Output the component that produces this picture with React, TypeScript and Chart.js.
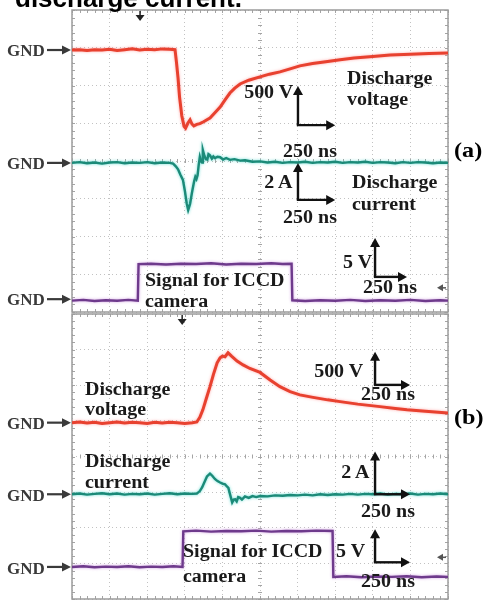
import React, { useEffect, useRef } from 'react';
import { Chart, registerables } from 'chart.js';
Chart.register(...registerables);

// time in divisions (0..10), level in divisions (0..8, from bottom of each panel)
// ---------- Panel (a) ----------
const voltageA: [number, number][] = [
  [0, 6.94], [0.2, 6.95], [0.4, 6.93], [0.6, 6.95], [0.8, 6.94], [1.0, 6.96], [1.2, 6.93], [1.4, 6.95],
  [1.6, 6.97], [1.8, 6.94], [2.0, 6.96], [2.2, 6.95], [2.4, 6.97], [2.6, 6.96], [2.74, 6.95], [2.78, 6.6],
  [2.82, 6.2], [2.86, 5.7], [2.92, 5.2], [2.98, 4.92], [3.02, 4.87], [3.08, 5.0], [3.14, 5.09], [3.19, 4.98],
  [3.24, 4.93], [3.32, 4.97], [3.4, 4.99], [3.5, 5.04], [3.6, 5.1], [3.67, 5.14], [3.8, 5.28], [3.94, 5.43],
  [4.07, 5.62], [4.2, 5.8], [4.33, 5.93], [4.47, 6.04], [4.7, 6.14], [5.0, 6.23], [5.25, 6.3], [5.53, 6.36],
  [5.8, 6.44], [6.06, 6.52], [6.4, 6.58], [6.75, 6.63], [7.13, 6.68], [7.5, 6.73], [8.0, 6.77], [8.46, 6.81],
  [9.0, 6.83], [9.5, 6.85], [10.0, 6.86],
];
const currentA: [number, number][] = [
  [0, 3.95], [0.2, 3.97], [0.4, 3.94], [0.6, 3.96], [0.8, 3.93], [1.0, 3.96], [1.2, 3.97], [1.4, 3.94],
  [1.6, 3.96], [1.8, 3.95], [2.0, 3.97], [2.2, 3.94], [2.4, 3.96], [2.6, 3.95], [2.69, 3.93], [2.76, 3.86],
  [2.82, 3.78], [2.88, 3.64], [2.95, 3.5], [3.0, 3.22], [3.05, 2.88], [3.09, 2.7], [3.14, 2.86], [3.19, 3.16],
  [3.22, 3.32], [3.25, 3.47], [3.28, 3.58], [3.31, 3.52], [3.34, 3.62], [3.37, 3.9], [3.4, 4.11], [3.43, 4.0],
  [3.46, 3.96], [3.48, 4.29], [3.52, 4.14], [3.56, 4.05], [3.6, 4.04], [3.63, 4.18], [3.67, 4.15], [3.72, 4.06],
  [3.76, 4.12], [3.8, 4.08], [3.87, 4.11], [3.94, 4.1], [4.02, 4.04], [4.1, 4.08], [4.2, 4.03], [4.32, 4.05],
  [4.47, 4.01], [4.6, 4.02], [4.8, 3.98], [5.0, 3.99], [5.2, 3.96], [5.4, 3.98], [5.6, 3.95], [5.8, 3.97],
  [6.0, 3.96], [6.2, 3.98], [6.4, 3.95], [6.6, 3.97], [6.8, 3.96], [7.0, 3.98], [7.2, 3.95], [7.4, 3.97],
  [7.6, 3.96], [7.8, 3.98], [8.0, 3.95], [8.2, 3.97], [8.4, 3.96], [8.6, 3.94], [8.8, 3.97], [9.0, 3.95],
  [9.2, 3.97], [9.4, 3.96], [9.6, 3.94], [9.8, 3.96], [10, 3.95],
];
const iccdA: [number, number][] = [
  [0, 0.3], [0.3, 0.32], [0.6, 0.29], [0.9, 0.31], [1.2, 0.3], [1.5, 0.32], [1.75, 0.3], [1.77, 1.27],
  [2.1, 1.28], [2.5, 1.26], [2.9, 1.28], [3.3, 1.27], [3.7, 1.29], [4.1, 1.26], [4.5, 1.28], [4.9, 1.27],
  [5.3, 1.29], [5.6, 1.27], [5.84, 1.28], [5.86, 0.31], [6.2, 0.29], [6.6, 0.31], [7.0, 0.3], [7.4, 0.32],
  [7.8, 0.29], [8.2, 0.31], [8.6, 0.3], [9.0, 0.32], [9.4, 0.29], [9.8, 0.31], [10, 0.3],
];

// ---------- Panel (b) ----------
const voltageB: [number, number][] = [
  [0, 4.95], [0.2, 4.97], [0.4, 4.94], [0.6, 4.96], [0.8, 4.93], [1.0, 4.95], [1.2, 4.97], [1.4, 4.94],
  [1.6, 4.96], [1.8, 4.95], [2.0, 4.93], [2.2, 4.96], [2.4, 4.94], [2.6, 4.96], [2.8, 4.95], [3.0, 4.93],
  [3.2, 4.95], [3.32, 4.97], [3.4, 5.1], [3.48, 5.31], [3.57, 5.62], [3.67, 5.96], [3.76, 6.3], [3.86, 6.63],
  [3.94, 6.77], [4.0, 6.82], [4.07, 6.8], [4.15, 6.91], [4.25, 6.81], [4.39, 6.68], [4.55, 6.57], [4.73, 6.47],
  [5.0, 6.36], [5.27, 6.15], [5.53, 5.96], [5.8, 5.82], [6.06, 5.73], [6.41, 5.66], [6.8, 5.59], [7.13, 5.54],
  [7.6, 5.47], [8.19, 5.4], [8.6, 5.35], [8.91, 5.31], [9.4, 5.27], [10, 5.22],
];
const currentB: [number, number][] = [
  [0, 2.94], [0.2, 2.96], [0.4, 2.93], [0.6, 2.95], [0.8, 2.97], [1.0, 2.94], [1.2, 2.96], [1.4, 2.93],
  [1.6, 2.95], [1.8, 2.94], [2.0, 2.96], [2.2, 2.93], [2.4, 2.95], [2.6, 2.97], [2.8, 2.94], [3.0, 2.96],
  [3.2, 2.95], [3.32, 2.96], [3.4, 3.03], [3.46, 3.13], [3.53, 3.3], [3.59, 3.44], [3.67, 3.52], [3.73, 3.46],
  [3.8, 3.37], [3.87, 3.31], [3.94, 3.27], [4.0, 3.24], [4.07, 3.22], [4.12, 3.16], [4.16, 3.12], [4.2, 2.95],
  [4.26, 2.71], [4.3, 2.79], [4.34, 2.8], [4.38, 2.74], [4.42, 2.86], [4.47, 2.84], [4.52, 2.79], [4.6, 2.88],
  [4.7, 2.84], [4.8, 2.89], [4.9, 2.86], [5.0, 2.89], [5.2, 2.88], [5.4, 2.91], [5.6, 2.9], [5.8, 2.92],
  [6.0, 2.91], [6.2, 2.93], [6.4, 2.91], [6.6, 2.94], [6.8, 2.92], [7.0, 2.94], [7.2, 2.93], [7.4, 2.95],
  [7.6, 2.93], [7.8, 2.95], [8.0, 2.94], [8.2, 2.96], [8.4, 2.93], [8.6, 2.95], [8.8, 2.94], [9.0, 2.96],
  [9.2, 2.93], [9.4, 2.95], [9.6, 2.94], [9.8, 2.96], [10, 2.94],
];
const iccdB: [number, number][] = [
  [0, 0.9], [0.3, 0.92], [0.6, 0.89], [0.9, 0.91], [1.2, 0.9], [1.5, 0.92], [1.8, 0.89], [2.1, 0.91],
  [2.4, 0.9], [2.7, 0.92], [2.94, 0.9], [2.96, 1.9], [3.3, 1.92], [3.7, 1.89], [4.1, 1.91], [4.5, 1.9],
  [4.9, 1.92], [5.3, 1.89], [5.7, 1.91], [6.1, 1.9], [6.5, 1.92], [6.93, 1.91], [6.95, 0.62], [7.3, 0.64],
  [7.7, 0.61], [8.1, 0.63], [8.5, 0.62], [8.9, 0.64], [9.3, 0.61], [9.7, 0.63], [10, 0.62],
];

// Ground reference levels (divisions)
const gndA = [6.94, 3.95, 0.34];
const gndB = [4.95, 2.94, 0.9];
// Scale bars: [cornerX, cornerY, tipY, endX]
const barsA: [number, number, number, number][] = [[6.01, 4.95, 5.99, 7.0], [6.01, 2.97, 3.95, 7.0], [8.06, 0.93, 1.96, 8.91]];
const barsB: [number, number, number, number][] = [[8.06, 6.01, 6.94, 8.99], [8.06, 2.94, 4.14, 8.99], [8.06, 1.03, 1.96, 8.99]];

const RED = '#e8412f';
const TEAL = '#1b8a78';
const PURPLE = '#6e3a8c';

type PanelCfg = { gnd: number[]; bars: [number, number, number, number][]; trigger: number; rightMark: number };

function scopePlugin(cfg: PanelCfg) {
  return {
    id: 'scope',
    beforeDatasetsDraw(chart: any) {
      const { ctx, chartArea: a, scales } = chart;
      const xs = scales.x, ys = scales.y;
      const ln = (x1: number, y1: number, x2: number, y2: number) => {
        ctx.beginPath(); ctx.moveTo(x1, y1); ctx.lineTo(x2, y2); ctx.stroke();
      };
      ctx.save();
      ctx.strokeStyle = '#a4a4a4';
      ctx.lineWidth = 1;
      const cy = ys.getPixelForValue(4), cx = xs.getPixelForValue(5);
      for (let i = 0; i <= 50; i++) {
        const px = Math.round(xs.getPixelForValue(i * 0.2)) + 0.5;
        ln(px, a.top, px, a.top + 3);
        ln(px, a.bottom, px, a.bottom - 3);
        ln(px, cy - 2, px, cy + 2);
      }
      for (let i = 0; i <= 40; i++) {
        const py = Math.round(ys.getPixelForValue(i * 0.2)) + 0.5;
        ln(a.left, py, a.left + 3, py);
        ln(a.right, py, a.right - 3, py);
        ln(cx - 2, py, cx + 2, py);
      }
      ctx.strokeStyle = '#9c9c9c';
      ctx.lineWidth = 1.5;
      ctx.strokeRect(a.left, a.top, a.right - a.left, a.bottom - a.top);
      ctx.restore();
    },
    beforeDatasetDraw(chart: any, args: any) {
      const ds = chart.data.datasets[args.index];
      chart.ctx.save();
      chart.ctx.shadowColor = ds.glow;
      chart.ctx.shadowBlur = 3;
    },
    afterDatasetDraw(chart: any) {
      chart.ctx.restore();
    },
    afterDatasetsDraw(chart: any) {
      const { ctx, chartArea: a, scales } = chart;
      const xs = scales.x, ys = scales.y;
      ctx.save();
      // GND arrows
      ctx.strokeStyle = '#3a3a3a'; ctx.fillStyle = '#3a3a3a'; ctx.lineWidth = 2.2;
      cfg.gnd.forEach((g) => {
        const py = ys.getPixelForValue(g);
        ctx.beginPath(); ctx.moveTo(a.left - 25, py); ctx.lineTo(a.left - 8, py); ctx.stroke();
        ctx.beginPath(); ctx.moveTo(a.left - 1, py); ctx.lineTo(a.left - 10, py - 4.5); ctx.lineTo(a.left - 10, py + 4.5); ctx.closePath(); ctx.fill();
      });
      // trigger marker
      const tx = xs.getPixelForValue(cfg.trigger);
      ctx.fillStyle = '#222'; ctx.strokeStyle = '#222'; ctx.lineWidth = 1.5;
      ctx.beginPath(); ctx.moveTo(tx, a.top + 1); ctx.lineTo(tx, a.top + 6); ctx.stroke();
      ctx.beginPath(); ctx.moveTo(tx - 4.5, a.top + 5); ctx.lineTo(tx + 4.5, a.top + 5); ctx.lineTo(tx, a.top + 11); ctx.closePath(); ctx.fill();
      // right-hand marker
      const ry = ys.getPixelForValue(cfg.rightMark);
      ctx.fillStyle = '#555'; ctx.strokeStyle = '#555'; ctx.lineWidth = 1.5;
      ctx.beginPath(); ctx.moveTo(a.right - 11, ry); ctx.lineTo(a.right - 5, ry - 3.5); ctx.lineTo(a.right - 5, ry + 3.5); ctx.closePath(); ctx.fill();
      ctx.beginPath(); ctx.moveTo(a.right - 6, ry); ctx.lineTo(a.right - 2, ry); ctx.stroke();
      // scale bars
      ctx.strokeStyle = '#111'; ctx.fillStyle = '#111'; ctx.lineWidth = 2.4;
      cfg.bars.forEach(([cxv, cyv, tipv, endv]) => {
        const x0 = xs.getPixelForValue(cxv), y0 = ys.getPixelForValue(cyv);
        const yt = ys.getPixelForValue(tipv), xe = xs.getPixelForValue(endv);
        ctx.beginPath(); ctx.moveTo(x0, y0); ctx.lineTo(x0, yt + 7); ctx.stroke();
        ctx.beginPath(); ctx.moveTo(x0, yt); ctx.lineTo(x0 - 5, yt + 9); ctx.lineTo(x0 + 5, yt + 9); ctx.closePath(); ctx.fill();
        ctx.beginPath(); ctx.moveTo(x0 - 1.2, y0); ctx.lineTo(xe - 7, y0); ctx.stroke();
        ctx.beginPath(); ctx.moveTo(xe, y0); ctx.lineTo(xe - 9, y0 - 5); ctx.lineTo(xe - 9, y0 + 5); ctx.closePath(); ctx.fill();
      });
      ctx.restore();
    },
  };
}

function makeChart(canvas: HTMLCanvasElement, series: { pts: [number, number][]; color: string; glow: string; w: number }[], cfg: PanelCfg, padding: any) {
  return new Chart(canvas, {
    type: 'line',
    data: {
      datasets: series.map((s) => ({
        data: s.pts.map(([x, y]) => ({ x, y })),
        borderColor: s.color,
        glow: s.glow,
        borderWidth: s.w,
        pointRadius: 0,
        tension: 0,
        fill: false,
      })),
    },
    options: {
      animation: false,
      responsive: false,
      layout: { padding },
      plugins: { legend: { display: false }, tooltip: { enabled: false } },
      scales: {
        x: {
          type: 'linear', min: 0, max: 10,
          ticks: { display: false, stepSize: 1 },
          grid: { color: '#c2c2c2', lineWidth: 1, drawTicks: false },
          border: { display: false, dash: [1, 3] },
        },
        y: {
          type: 'linear', min: 0, max: 8,
          ticks: { display: false, stepSize: 1 },
          grid: { color: '#c2c2c2', lineWidth: 1, drawTicks: false },
          border: { display: false, dash: [1, 3] },
        },
      },
    } as any,
    plugins: [scopePlugin(cfg)],
  });
}

const SERIF = '"Liberation Serif", "Times New Roman", serif';

function T({ x, y, text, size = 18, align = 'left', color = '#1a1a1a', family = SERIF, weight = 700, sx = 1.11 }: any) {
  const base = family === SERIF ? 0.8375 : 0.8465;
  const style: React.CSSProperties = {
    position: 'absolute', top: y - base * size, fontSize: size, lineHeight: `${size}px`,
    fontFamily: family, fontWeight: weight, color, whiteSpace: 'nowrap',
  };
  if (align === 'left') { style.left = x; style.transform = `scaleX(${sx})`; style.transformOrigin = 'left center'; }
  else if (align === 'right') { style.right = 489 - x; style.transform = `scaleX(${sx})`; style.transformOrigin = 'right center'; }
  else { style.left = x; style.transform = `translateX(-50%) scaleX(${sx})`; style.transformOrigin = 'center center'; }
  return <div style={style}>{text}</div>;
}

export default function App() {
  const refA = useRef<HTMLCanvasElement>(null);
  const refB = useRef<HTMLCanvasElement>(null);
  useEffect(() => {
    const ca = makeChart(refA.current!, [
      { pts: iccdA, color: PURPLE, glow: 'rgba(200,140,220,0.8)', w: 2.4 },
      { pts: currentA, color: TEAL, glow: 'rgba(90,220,210,0.9)', w: 2.4 },
      { pts: voltageA, color: RED, glow: 'rgba(255,150,150,0.8)', w: 3 },
    ], { gnd: gndA, bars: barsA, trigger: 1.81, rightMark: 0.64 }, { left: 72, right: 41, top: 10, bottom: 2 });
    const cb = makeChart(refB.current!, [
      { pts: iccdB, color: PURPLE, glow: 'rgba(200,140,220,0.8)', w: 2.4 },
      { pts: currentB, color: TEAL, glow: 'rgba(90,220,210,0.9)', w: 2.4 },
      { pts: voltageB, color: RED, glow: 'rgba(255,150,150,0.8)', w: 3 },
    ], { gnd: gndB, bars: barsB, trigger: 2.93, rightMark: 1.17 }, { left: 72, right: 41, top: 2, bottom: 1 });
    return () => { ca.destroy(); cb.destroy(); };
  }, []);

  const gnd = '#3a3a3a';
  return (
    <div style={{ position: 'absolute', left: 0, top: 0, width: 489, height: 600, overflow: 'hidden', background: '#fff' }}>
      <canvas ref={refA} width={489} height={314} style={{ position: 'absolute', left: 0, top: 0, width: 489, height: 314 }} />
      <canvas ref={refB} width={489} height={288} style={{ position: 'absolute', left: 0, top: 312, width: 489, height: 288 }} />
      <T x={15} y={7} text="discharge current." size={26} family={'"Liberation Sans", Arial, sans-serif'} color="#000" sx={1} />
      {/* panel (a) */}
      <T x={7} y={56} text="GND" size={17} color={gnd} sx={1} />
      <T x={7} y={169} text="GND" size={17} color={gnd} sx={1} />
      <T x={7} y={305} text="GND" size={17} color={gnd} sx={1} />
      <T x={347} y={84} text="Discharge" />
      <T x={347} y={105} text="voltage" />
      <T x={293} y={98} text="500 V" align="right" />
      <T x={310} y={157} text="250 ns" align="center" />
      <T x={352} y={188} text="Discharge" />
      <T x={352} y={210} text="current" />
      <T x={293} y={188} text="2 A" align="right" />
      <T x={310} y={223} text="250 ns" align="center" />
      <T x={372} y={268} text="5 V" align="right" />
      <T x={390} y={293} text="250 ns" align="center" />
      <T x={145} y={286} text="Signal for ICCD" />
      <T x={145} y={307} text="camera" />
      <T x={454} y={157} text="(a)" size={22} color="#000" sx={1.1} />
      {/* panel (b) */}
      <T x={7} y={429} text="GND" size={17} color={gnd} sx={1} />
      <T x={7} y={501} text="GND" size={17} color={gnd} sx={1} />
      <T x={7} y={574} text="GND" size={17} color={gnd} sx={1} />
      <T x={85} y={395} text="Discharge" />
      <T x={85} y={415} text="voltage" />
      <T x={85} y={467} text="Discharge" />
      <T x={85} y={488} text="current" />
      <T x={363} y={377} text="500 V" align="right" />
      <T x={388} y={400} text="250 ns" align="center" />
      <T x={370} y={478} text="2 A" align="right" />
      <T x={388} y={517} text="250 ns" align="center" />
      <T x={183} y={557} text="Signal for ICCD" />
      <T x={183} y={582} text="camera" />
      <T x={365} y={557} text="5 V" align="right" />
      <T x={388} y={587} text="250 ns" align="center" />
      <T x={454} y={424} text="(b)" size={22} color="#000" sx={1.1} />
    </div>
  );
}
